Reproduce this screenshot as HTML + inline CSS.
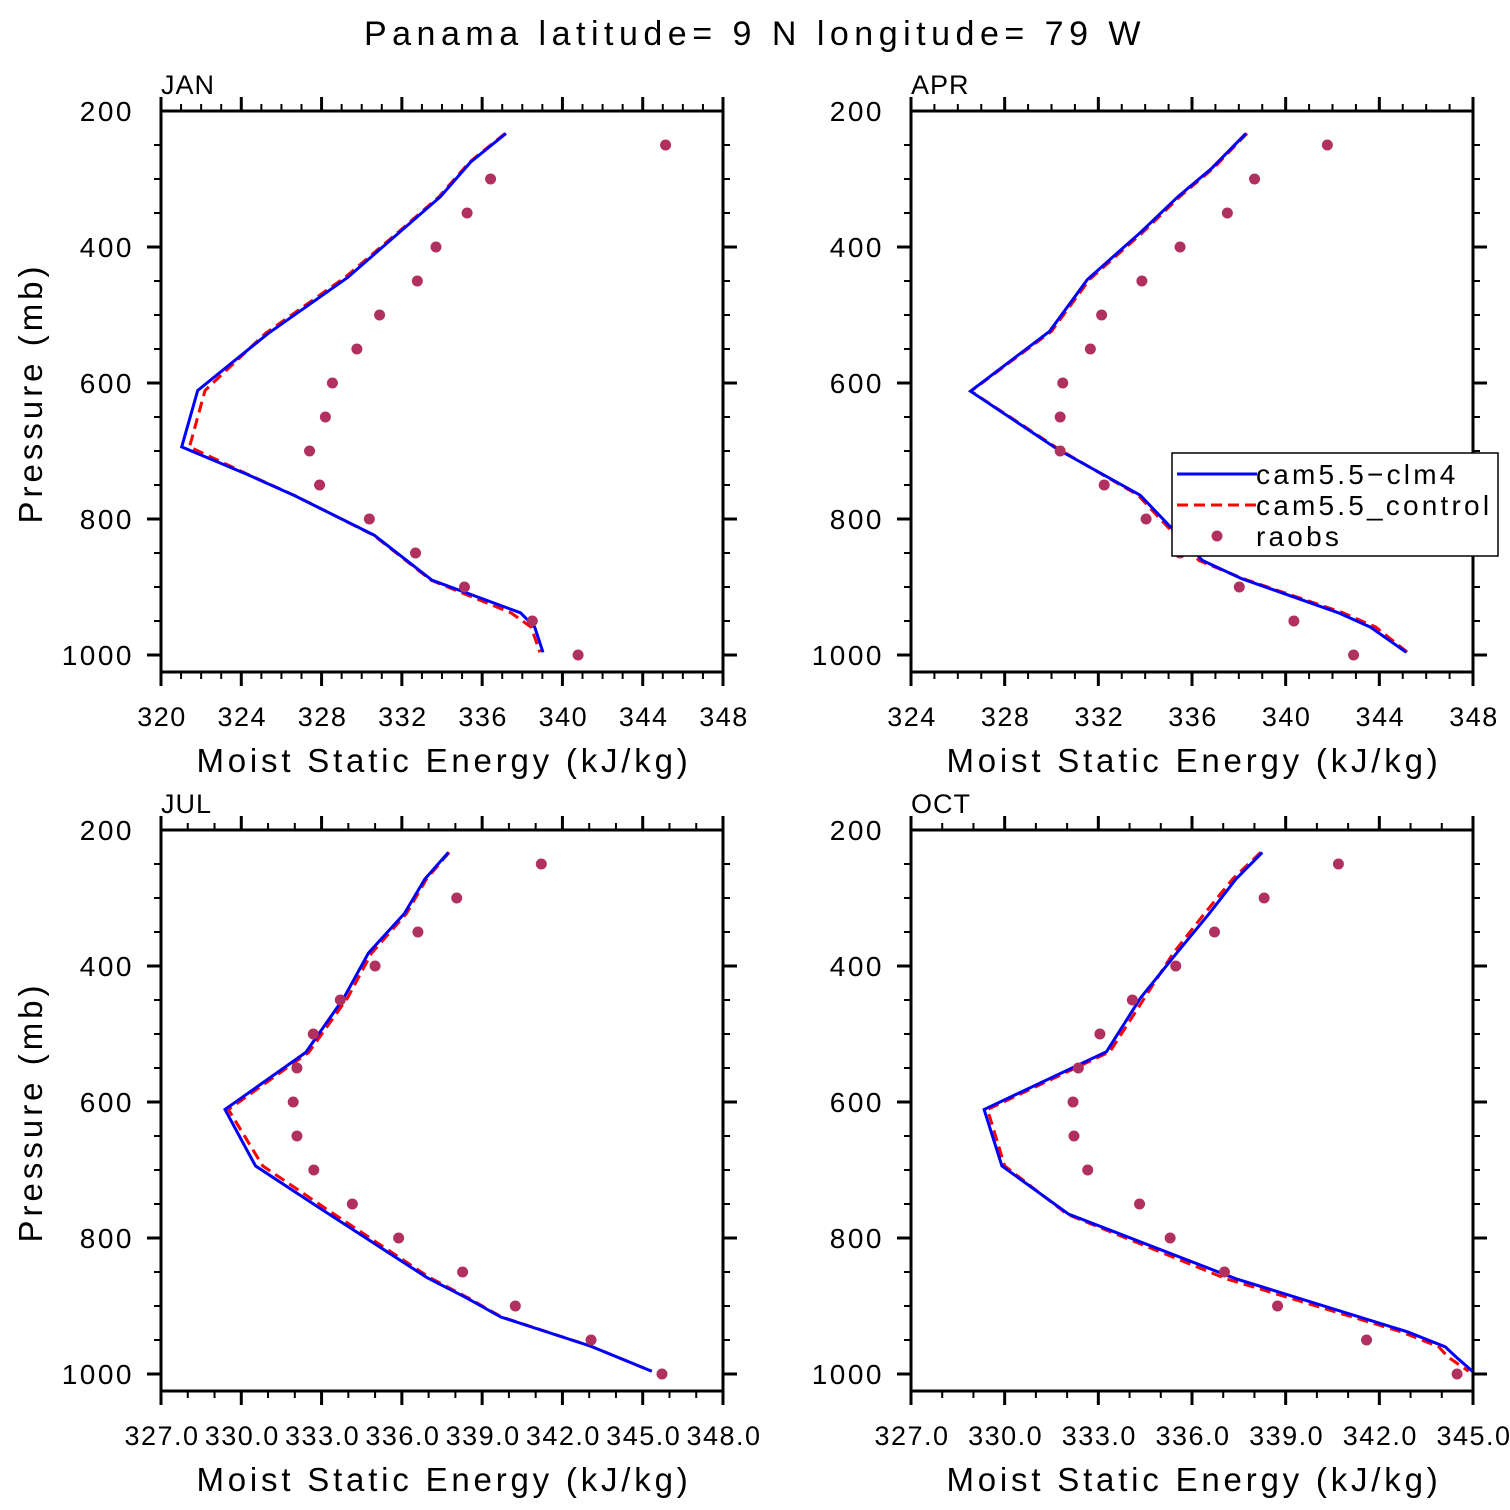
<!DOCTYPE html>
<html><head><meta charset="utf-8"><style>
html,body{margin:0;padding:0;background:#fff}
svg{display:block;font-family:"Liberation Sans",sans-serif}
</style></head><body>
<svg id="chart" width="1510" height="1510" viewBox="0 0 1510 1510" xmlns="http://www.w3.org/2000/svg">
<text x="755" y="45" text-anchor="middle" font-size="34" letter-spacing="5.5" fill="#000">Panama  latitude= 9 N longitude= 79 W</text>
</svg>
<script>
// ---- data ----
const obsLevels=[250,300,350,400,450,500,550,600,650,700,750,800,850,900,950,1000];
const janLevels=[233,275,326,380,445,527,611,694,734,766,824,890,938,959,996];
const janClm4=[337.19,335.43,333.92,331.82,329.29,325.34,321.83,321.03,324.26,326.68,330.63,333.50,337.91,338.62,339.03];
const janControl=[337.15,335.38,333.85,331.75,329.15,325.20,322.19,321.42,324.30,326.70,330.60,333.45,337.44,338.44,338.88];
const janObs=[345.14,336.42,335.25,333.70,332.77,330.89,329.76,328.54,328.19,327.40,327.90,330.38,332.68,335.12,338.50,340.78];
const aprLevels=[233,284,326,379,448,524,612,697,765,861,888,938,959,996];
const aprClm4=[338.30,336.85,335.40,333.79,331.53,329.92,326.54,330.24,333.79,336.45,338.14,342.25,343.62,345.15];
const aprControl=[338.35,336.92,335.48,333.88,331.62,330.00,326.56,330.30,333.70,336.30,338.20,342.45,343.85,345.20];
const aprObs=[341.78,338.67,337.51,335.49,333.86,332.14,331.66,330.48,330.37,330.37,332.25,334.04,335.49,338.02,340.35,342.90];
const julLevels=[233,272,323,381,447,527,611,694,755,858,888,916,959,996];
const julClm4=[337.77,336.89,336.12,334.78,333.86,332.44,329.42,330.56,332.92,336.96,338.44,339.72,343.08,345.37];
const julControl=[337.80,336.95,336.20,334.90,334.00,332.55,329.55,330.83,333.12,337.06,338.50,339.75,343.08,345.37];
const julObs=[341.24,338.08,336.63,335.03,333.73,332.72,332.11,331.97,332.11,332.74,334.18,335.91,338.30,340.27,343.10,345.75];
const octLevels=[233,272,323,381,447,526,611,694,765,860,938,960,975,996];
const octClm4=[338.25,337.41,336.55,335.51,334.35,333.26,329.34,329.91,332.05,337.41,342.90,344.11,344.46,344.98];
const octControl=[338.20,337.30,336.40,335.40,334.48,333.37,329.45,330.00,332.00,337.10,342.70,343.90,344.20,344.86];
const octObs=[340.69,338.31,336.72,335.48,334.09,333.05,332.36,332.19,332.22,332.66,334.32,335.30,337.04,338.74,341.59,344.49];
const janXTicks=[320,324,328,332,336,340,344,348];
const aprXTicks=[324,328,332,336,340,344,348];
const julXTicks=[327.03,330.03,333.03,336.03,339.03,342.03,345.03,348.03];
const octXTicks=[327.0,330.0,333.0,336.0,339.0,342.0,345.0];
const yTicks=[200,400,600,800,1000];

const NS="http://www.w3.org/2000/svg";
const svg=document.getElementById('chart');
function mk(tag,attrs,parent){const e=document.createElementNS(NS,tag);for(const k in attrs)e.setAttribute(k,attrs[k]);(parent||svg).appendChild(e);return e;}

const panels=[
 {id:'jan',label:'JAN',left:161,top:111,xmin:320,xmax:348,minor:1,ticks:janXTicks,dec:0,lev:janLevels,a:janClm4,b:janControl,obs:janObs},
 {id:'apr',label:'APR',left:911,top:111,xmin:324,xmax:348,minor:1,ticks:aprXTicks,dec:0,lev:aprLevels,a:aprClm4,b:aprControl,obs:aprObs},
 {id:'jul',label:'JUL',left:161,top:830,xmin:327.03,xmax:348.03,minor:1,ticks:julXTicks,dec:1,lev:julLevels,a:julClm4,b:julControl,obs:julObs},
 {id:'oct',label:'OCT',left:911,top:830,xmin:327,xmax:345,minor:1,ticks:octXTicks,dec:1,lev:octLevels,a:octClm4,b:octControl,obs:octObs}
];
const W=562,H=561,PPM=0.68;
panels.forEach(p=>{
 const g=mk('g',{});
 
 
 const xs=v=>p.left+(v-p.xmin)/(p.xmax-p.xmin)*W;
 const ys=v=>p.top+(v-200)*PPM;
 const bottom=p.top+H, right=p.left+W;
 for(let v=250;v<=1000;v+=50){const y=ys(v);const maj=(v%200===0);const L=maj?14:7;
  mk('line',{x1:p.left-L,x2:p.left,y1:y,y2:y,stroke:'#000','stroke-width':maj?3:2},g);
  mk('line',{x1:right,x2:right+L,y1:y,y2:y,stroke:'#000','stroke-width':maj?3:2},g);}
 for(let v=p.xmin;v<=p.xmax+1e-6;v+=p.minor){const x=xs(v);const maj=p.ticks.some(t=>Math.abs(t-v)<1e-6);const L=maj?14:7;
  mk('line',{x1:x,x2:x,y1:bottom,y2:bottom+L,stroke:'#000','stroke-width':maj?3:2},g);
  mk('line',{x1:x,x2:x,y1:p.top-L,y2:p.top,stroke:'#000','stroke-width':maj?3:2},g);}
 mk('rect',{x:p.left,y:p.top,width:W,height:H,fill:'none',stroke:'#000','stroke-width':3},g);
 yTicks.forEach(v=>{const t=mk('text',{x:p.left-27,y:ys(v)+10,'text-anchor':'end','font-size':28,'letter-spacing':'2.5'},g);t.textContent=v;
  
  });
 p.ticks.forEach(v=>{const t=mk('text',{x:xs(v)+1,y:bottom+54,'text-anchor':'middle','font-size':27,'letter-spacing':'1.5'},g);t.textContent=v.toFixed(p.dec);
  
  });
 const lab=mk('text',{x:p.left,y:p.top-17,'font-size':27,'letter-spacing':'1'},g);lab.textContent=p.label;
 
 
 const xt=mk('text',{x:p.left+W/2+2,y:bottom+100,'text-anchor':'middle','font-size':33,'letter-spacing':'3.8'},g);xt.textContent='Moist Static Energy (kJ/kg)';
 
 
 if(p.left<500){const yt=mk('text',{transform:`translate(42,${p.top+282}) rotate(-90)`,'text-anchor':'middle','font-size':33,'letter-spacing':'4'},g);yt.textContent='Pressure (mb)';
  
  }
 const ptsA=p.lev.map((l,i)=>xs(p.a[i]).toFixed(1)+','+ys(l).toFixed(1)).join(' ');
 const ptsB=p.lev.map((l,i)=>xs(p.b[i]).toFixed(1)+','+ys(l).toFixed(1)).join(' ');
 const lb=mk('polyline',{points:ptsB,fill:'none',stroke:'#ff0000','stroke-width':3,'stroke-dasharray':'11,6'},g);
 
 
 const la=mk('polyline',{points:ptsA,fill:'none',stroke:'#0000ff','stroke-width':3},g);
 
 
 p.obs.forEach((v,i)=>{const c=mk('circle',{cx:xs(v),cy:ys(obsLevels[i]),r:5.5,fill:'#b03060'},g);
  
  });
});
const lg=mk('g',{});


mk('rect',{x:1172,y:453,width:326,height:103,fill:'#fff',stroke:'#000','stroke-width':1.5},lg);
mk('line',{x1:1177,x2:1257,y1:474,y2:474,stroke:'#0000ff','stroke-width':3},lg);
mk('line',{x1:1177,x2:1257,y1:505,y2:505,stroke:'#ff0000','stroke-width':3,'stroke-dasharray':'11,6'},lg);
mk('circle',{cx:1217,cy:536,r:5.5,fill:'#b03060'},lg);
[['cam5.5\u2212clm4',484],['cam5.5_control',515],['raobs',546]].forEach(([s,y])=>{const t=mk('text',{x:1256,y:y,'font-size':28,'letter-spacing':'3.2'},lg);t.textContent=s;
 
 });
</script>
</body></html>
